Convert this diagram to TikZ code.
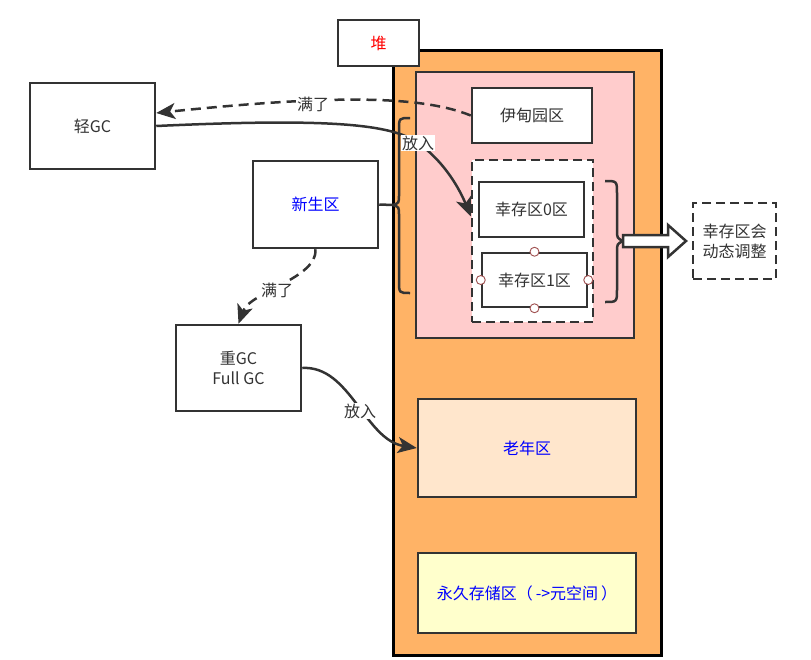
\documentclass[tikz,border=0pt]{standalone}
\usepackage{fontspec}
\setmainfont{Noto Sans CJK SC}
\usetikzlibrary{arrows.meta,calc}
\definecolor{dk}{HTML}{333333}
\definecolor{heapc}{HTML}{FFB366}
\definecolor{pinkc}{HTML}{FFCCCC}
\definecolor{oldc}{HTML}{FFE6CC}
\definecolor{permc}{HTML}{FFFFCC}
\definecolor{handlec}{HTML}{A05050}
\tikzset{
  box/.style={draw=dk, line width=2.5pt, fill=white, inner sep=0pt, align=center,
    font=\fontsize{16}{20}\selectfont, text=dk},
  dbox/.style={box, dash pattern=on 9pt off 5pt},
  conn/.style={draw=dk, line width=2.5pt, -{Stealth[length=19pt,width=16pt,inset=5pt]}},
  dconn/.style={conn, dash pattern=on 10pt off 6pt},
  lbl/.style={fill=white, inner sep=1pt, font=\fontsize{16}{18}\selectfont, text=dk},
  handle/.style={circle, draw=handlec, fill=white, line width=0.9pt, minimum size=9pt, inner sep=0pt},
  bracec/.style={draw=dk, line width=2.5pt}
}
\begin{document}
\begin{tikzpicture}[x=1pt,y=-1pt]
\useasboundingbox (0,0) rectangle (811,659);
% heap
\node[draw=black, line width=3pt, fill=heapc, minimum width=268pt, minimum height=605pt, inner sep=0pt] (heap) at (527,352.5) {};
\node[box, minimum width=81pt, minimum height=46pt, text=red] (dui) at (378.5,43) {堆};
% young gen
\node[box, fill=pinkc, minimum width=218pt, minimum height=266pt] (young) at (525,205) {};
\node[box, minimum width=120pt, minimum height=55pt] (eden) at (532,115.5) {伊甸园区};
\node[dbox, minimum width=121pt, minimum height=162pt] (surv) at (532.5,241) {};
\node[box, minimum width=105pt, minimum height=55pt] (s0) at (531.5,209.5) {幸存区0区};
\node[box, minimum width=105pt, minimum height=54pt] (s1) at (534.5,280) {幸存区1区};
\node[handle] (h1) at (s1.north) {};
\node[handle] (h2) at (s1.south) {};
\node[handle] (h3) at (s1.west) {};
\node[handle] (h4) at (s1.east) {};
% old, perm
\node[box, fill=oldc, text=blue, minimum width=218pt, minimum height=98pt] (old) at (527,448) {老年区};
\node[box, fill=permc, text=blue, minimum width=218pt, minimum height=80pt] (perm) at (527,593) {永久存储区（\hspace{3pt}->元空间\hspace{3pt}）};
% outside boxes
\node[box, minimum width=125pt, minimum height=86pt] (light) at (92.5,126) {轻GC};
\node[box, text=blue, minimum width=125pt, minimum height=87pt] (new) at (315.5,204.5) {新生区};
\node[box, minimum width=125pt, minimum height=86pt] (full) at (238.5,368) {重GC\\Full GC};
\node[dbox, minimum width=83pt, minimum height=76pt] (dyn) at (734.5,241) {幸存区会\\动态调整};
% left brace
\coordinate (lbt) at (393,205);
\draw[bracec] (410,118) .. controls (399,118) .. (399,130) -- (399,195) .. controls (399,203) .. (lbt) .. controls (399,207) .. (399,215) -- (399,281) .. controls (399,293) .. (410,293);
\draw[bracec] (new.east) -- (lbt);
% right brace
\coordinate (rbt) at (623,241);
\draw[bracec] (605,181) .. controls (617,181) .. (617,194) -- (617,230) .. controls (617,238) .. (rbt) .. controls (617,244) .. (617,252) -- (617,289) .. controls (617,302) .. (605,302);
% block arrow
\draw[draw=dk, fill=white, line width=2.5pt, line join=miter] (rbt) ++(0,-6) -- (668,235) -- (668,225) -- (686,241) -- (668,257) -- (668,247) -- (623,247) -- cycle;
% connectors
\draw[dconn] (eden.west) .. controls (420,95) and (330,95) .. (light.east |- 0,113);
\node[lbl] (full0) at (313,104) {满了};
\draw[conn] (light.east) .. controls (330,118) and (392,124) .. (418,143)
  .. controls (445,162) and (460,190) .. ($(surv.north west)!0.35!(surv.south west)$);
\node[lbl] (put1) at (418,143) {放入};
\draw[dconn] (new.south) .. controls (318,278) and (250,292) .. (full.north);
\node[lbl] (full1) at (277,290) {满了};
\draw[conn] (full.east) .. controls (350,365) and (365,440) .. (old.west);
\node[lbl] (put2) at (360,411) {放入};
\end{tikzpicture}
\end{document}
